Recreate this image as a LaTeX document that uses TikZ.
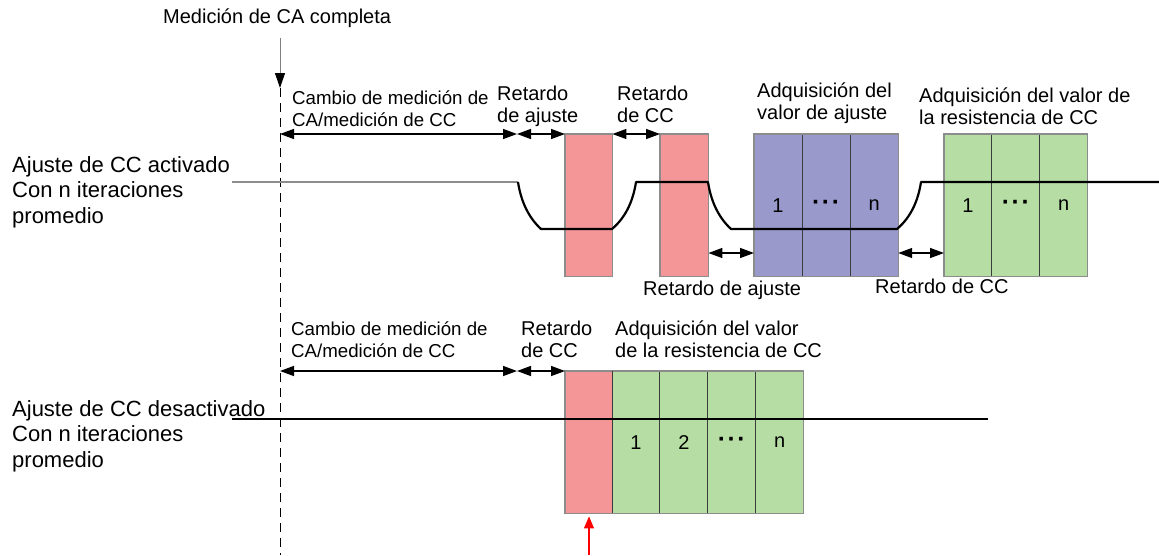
\documentclass[tikz,border=0pt]{standalone}
\usepackage{fontspec}
\setmainfont{Liberation Sans}
\usetikzlibrary{arrows.meta}
\definecolor{pinkc}{RGB}{244,150,152}
\definecolor{purplec}{RGB}{153,153,204}
\definecolor{greenc}{RGB}{182,221,164}
\definecolor{framec}{RGB}{140,140,140}
\definecolor{divc}{RGB}{60,60,60}
\definecolor{sigc}{RGB}{0,0,0}
\newcommand{\celldots}{{\fontsize{25}{25}\selectfont\textbf{·\kern1.5pt·\kern1.5pt·}}}
\begin{document}
\begin{tikzpicture}[x=1pt,y=-1pt,
  txt/.style={inner sep=0pt, anchor=base west, align=left, font=\fontsize{20}{22}\selectfont},
  txtsm/.style={txt, font=\fontsize{18.7}{21.3}\selectfont},
  txtlg/.style={txt, font=\fontsize{22}{25.5}\selectfont},
  cell/.style={inner sep=0pt, minimum height=142pt, anchor=north west, font=\fontsize{20}{22}\selectfont},
  pinkcell/.style={cell, fill=pinkc, minimum width=47pt},
  purplecell/.style={cell, fill=purplec, minimum width=47.67pt},
  greencell/.style={cell, fill=greenc, minimum width=47.5pt},
  frame/.style={draw=framec, line width=1.3pt},
  divider/.style={draw=divc, line width=0.9pt},
  sig/.style={draw=sigc, line width=2.2pt},
  dim/.style={line width=1.4pt, {Triangle[length=14pt,width=10pt]}-{Triangle[length=14pt,width=10pt]}},
]
\useasboundingbox (0,0) rectangle (1159,555);

% --- time-zero marker
\coordinate (m0) at (280,38);
\coordinate (m1) at (280,88);
\coordinate (m2) at (280,555);
\node[txt] (mtxt) at (163,23) {Medición de CA completa};
\draw[draw=gray, line width=1pt, -{Triangle[length=15pt,width=10pt,black]}] (m0) -- (m1);
\draw[line width=1pt, dash pattern=on 9pt off 6pt] (m1) -- (m2);

% --- top row boxes
\node[pinkcell] (p1) at (565,134) {};
\node[pinkcell, minimum width=48pt] (p2) at (660,134) {};
\node[purplecell] (a1) at (754,134) {1};
\node[purplecell] (a2) at (a1.north east) {\celldots};
\node[purplecell] (a3) at (a2.north east) {n};
\node[greencell] (g1) at (944,134) {1};
\node[greencell] (g2) at (g1.north east) {\celldots};
\node[greencell] (g3) at (g2.north east) {n};
\draw[divider] (a1.north east) -- (a1.south east) (a2.north east) -- (a2.south east);
\draw[divider] (g1.north east) -- (g1.south east) (g2.north east) -- (g2.south east);
\draw[frame] (p1.north west) rectangle (p1.south east);
\draw[frame] (p2.north west) rectangle (p2.south east);
\draw[frame] (a1.north west) rectangle (a3.south east);
\draw[frame] (g1.north west) rectangle (g3.south east);

% --- top signal
\coordinate (s0) at (232,182);
\coordinate (s1) at (518,182);
\coordinate (s2) at (541,229);
\coordinate (s3) at (612,229);
\coordinate (s4) at (636,182);
\coordinate (s5) at (708,182);
\coordinate (s6) at (731,229);
\coordinate (s7) at (897,229);
\coordinate (s8) at (921,182);
\coordinate (s9) at (1159,182);
\draw[draw=framec, line width=1.5pt] (s0) -- (s1);
\draw[sig, line join=round] (s1) .. controls (521,202) and (529,218) .. (s2) -- (s3)
  .. controls (625,218) and (633,202) .. (s4) -- (s5)
  .. controls (711,202) and (719,218) .. (s6) -- (s7)
  .. controls (910,218) and (918,202) .. (s8) -- (s9);

% --- top dimension arrows
\coordinate (d0) at (280,134);
\coordinate (d1) at (517,134);
\draw[dim] (d0) -- (d1);
\draw[dim] (d1) -- (p1.north west);
\draw[dim] (p1.north east) -- (p2.north west);
\draw[dim] (p2.east |- 0,253) -- (a1.west |- 0,253);
\draw[dim] (a3.east |- 0,253) -- (g1.west |- 0,253);

% --- top labels (anchor = baseline of last line)
\node[txtlg] (l1) at (12,223) {Ajuste de CC activado\\Con n iteraciones\\promedio};
\node[txtsm] (t1) at (292,126) {Cambio de medición de\\CA/medición de CC};
\node[txt] (t2) at (497,122) {Retardo\\de ajuste};
\node[txt] (t3) at (617,122) {Retardo\\de CC};
\node[txt] (t4) at (757,119) {Adquisición del\\valor de ajuste};
\node[txt] (t5) at (919,124) {Adquisición del valor de\\la resistencia de CC};
\node[txt] (t6) at (643,295) {Retardo de ajuste};
\node[txt] (t7) at (875,293) {Retardo de CC};

% --- bottom row
\node[pinkcell] (p3) at (565,371) {};
\node[greencell] (h1) at (612,371) {1};
\node[greencell] (h2) at (h1.north east) {2};
\node[greencell] (h3) at (h2.north east) {\celldots};
\node[greencell] (h4) at (h3.north east) {n};
\draw[divider] (h1.north west) -- (h1.south west) (h1.north east) -- (h1.south east)
  (h2.north east) -- (h2.south east) (h3.north east) -- (h3.south east);
\draw[frame] (p3.north west) rectangle (h4.south east);
\draw[divider] (h1.north west) -- (h1.south west);

\coordinate (b0) at (232,419);
\coordinate (b1) at (988,419);
\draw[sig] (b0) -- (b1);

\coordinate (e0) at (280,371);
\coordinate (e1) at (517,371);
\draw[dim] (e0) -- (e1);
\draw[dim] (e1) -- (p3.north west);

\coordinate (r0) at (589,555);
\draw[draw=red, line width=1.2pt, -{Triangle[length=12pt,width=10pt]}] (r0) -- ([yshift=-3pt]p3.south -| r0);

\node[txtlg] (l2) at (12,467) {Ajuste de CC desactivado\\Con n iteraciones\\promedio};
\node[txtsm] (u1) at (291,357) {Cambio de medición de\\CA/medición de CC};
\node[txt] (u2) at (521,357) {Retardo\\de CC};
\node[txt] (u3) at (615,357) {Adquisición del valor\\de la resistencia de CC};
\end{tikzpicture}
\end{document}
